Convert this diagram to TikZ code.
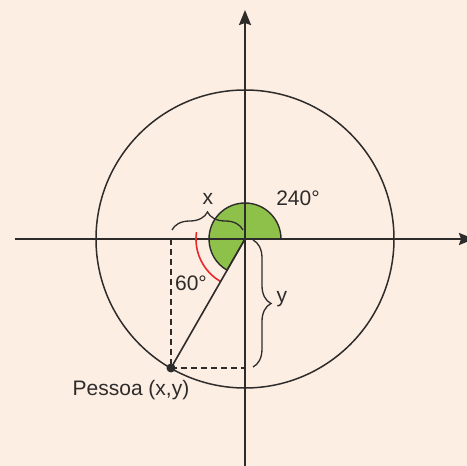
\documentclass[tikz,border=0pt]{standalone}
\usepackage{fontspec}
\setmainfont{Liberation Sans}
\usetikzlibrary{arrows.meta,decorations.pathreplacing,calc}
\definecolor{bgc}{HTML}{FDEEE3}
\definecolor{ink}{HTML}{2E2B2B}
\definecolor{leaf}{HTML}{8DC14A}
\definecolor{redarc}{HTML}{E8282B}
\begin{document}
\begin{tikzpicture}[x=1pt,y=1pt,
  axis/.style={draw=ink,line width=2pt,-{Stealth[length=15pt,width=12pt,inset=2pt]}},
  lbl/.style={text=ink,font=\fontsize{21}{25}\selectfont,inner sep=0pt},
  bracestyle/.style={draw=ink,line width=1.3pt,decorate,decoration={brace,amplitude=18pt}},
  dashline/.style={draw=ink,line width=1.9pt,dash pattern=on 6pt off 4pt}]
\fill[bgc] (-245,-227) rectangle (222,239);
\useasboundingbox (-245,-227) rectangle (222,239);
\coordinate (O) at (0,0);
\coordinate (P) at (-74,-129);
\coordinate (Px) at (P |- O);
\coordinate (Py) at (O |- P);
\coordinate (L) at (-230,0);
\coordinate (R) at (229,0);
\coordinate (B) at (0,-227);
\coordinate (T) at (0,229);
% green sector
\filldraw[fill=leaf,draw=ink,line width=1.4pt] (O) -- (36,0) arc[start angle=0,end angle=240,radius=36] -- cycle;
% circle
\draw[ink,line width=1.5pt] (O) circle[radius=149];
% axes
\draw[axis] (L) -- (R);
\draw[axis] (B) -- (T);
% red arc
\draw[redarc,line width=1.6pt] (172:49) arc[start angle=172,end angle=240,radius=49];
% radius line
\draw[ink,line width=1.6pt] (O) -- (P);
% dashed projections
\draw[dashline] (Px) -- (P);
\draw[dashline] (P) -- (Py);
\fill[ink] (P) circle[radius=4.5];
% braces
\coordinate (bx1) at (-73,9);
\coordinate (bx2) at (-2,9);
\draw[bracestyle] (bx1) -- (bx2);
\coordinate (by1) at (8,-1);
\coordinate (by2) at (8,-128);
\draw[bracestyle] (by1) -- (by2);
% labels
\node[lbl] (xl) at (-37,40) {x};
\node[lbl] (yl) at (37,-60) {y};
\node[lbl] (a60) at (-54,-44) {60°};
\node[lbl] (a240) at (53,41) {240°};
\node[lbl] (pess) at (-114,-151) {Pessoa (x,y)};
\end{tikzpicture}
\end{document}
